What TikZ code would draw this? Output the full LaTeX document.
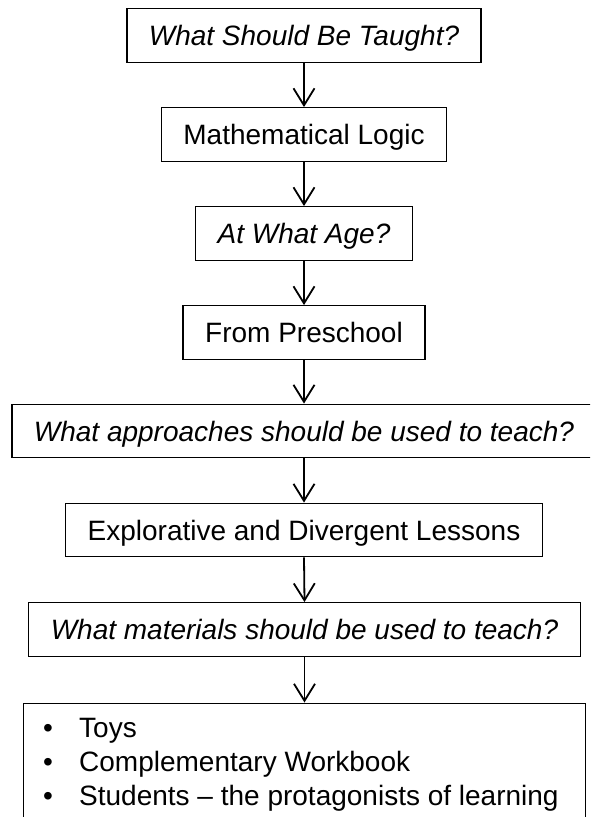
\documentclass[tikz,border=0pt]{standalone}
\usepackage{fontspec}
\setmainfont{Liberation Sans}
\usetikzlibrary{arrows.meta}
\begin{document}
\begin{tikzpicture}[x=1pt,y=-1pt,
  stepbox/.style={draw=black, line width=1.4pt, inner xsep=22pt, inner ysep=0pt,
    minimum height=53.5pt, text height=20pt, text depth=0pt,
    font=\fontsize{28}{33}\selectfont},
  q/.style={stepbox, font=\fontsize{28}{33}\selectfont\itshape},
  flow/.style={draw=black, line width=1.8pt, -{Straight Barb[length=17pt,width=21pt,line width=1.8pt]}},
  itemtext/.style={inner sep=0pt, anchor=base west, font=\fontsize{28}{33}\selectfont}
]
\useasboundingbox (0,0) rectangle (590,817);
\clip (0,0) rectangle (590,817);
\fill[white] (0,0) rectangle (590,817);

\node[q] (b1) at (304,35.5) {What Should Be Taught?};
\node[stepbox] (b2) at (304,134.5) {Mathematical Logic};
\node[q] (b3) at (304,233.5) {At What Age?};
\node[stepbox] (b4) at (304,332.5) {From Preschool};
\node[q] (b5) at (304,431) {What approaches should be used to teach?};
\node[stepbox] (b6) at (304,530) {Explorative and Divergent Lessons};
\node[q] (b7) at (304.5,629.5) {What materials should be used to teach?};
\node[draw=black, line width=1.4pt, anchor=north west, minimum width=562pt,
  minimum height=160pt, inner sep=0pt] (b8) at (23,702.5) {};

\node[itemtext] (d1) at (43,737) {•};
\node[itemtext] (t1) at (79,737) {Toys};
\node[itemtext] (d2) at (43,771.5) {•};
\node[itemtext] (t2) at (79,771.5) {Complementary Workbook};
\node[itemtext] (d3) at (43,805) {•};
\node[itemtext] (t3) at (79,805) {Students – the protagonists of learning};

\draw[flow] (b1.south) -- (b2.north);
\draw[flow] (b2.south) -- (b3.north);
\draw[flow] (b3.south) -- (b4.north);
\draw[flow] (b4.south) -- (b5.north);
\draw[flow] (b5.south) -- (b6.north);
\draw[flow] (b6.south) -- (b7.north);
\draw[flow] (b7.south) -- (b7.south |- b8.north);
\end{tikzpicture}
\end{document}
